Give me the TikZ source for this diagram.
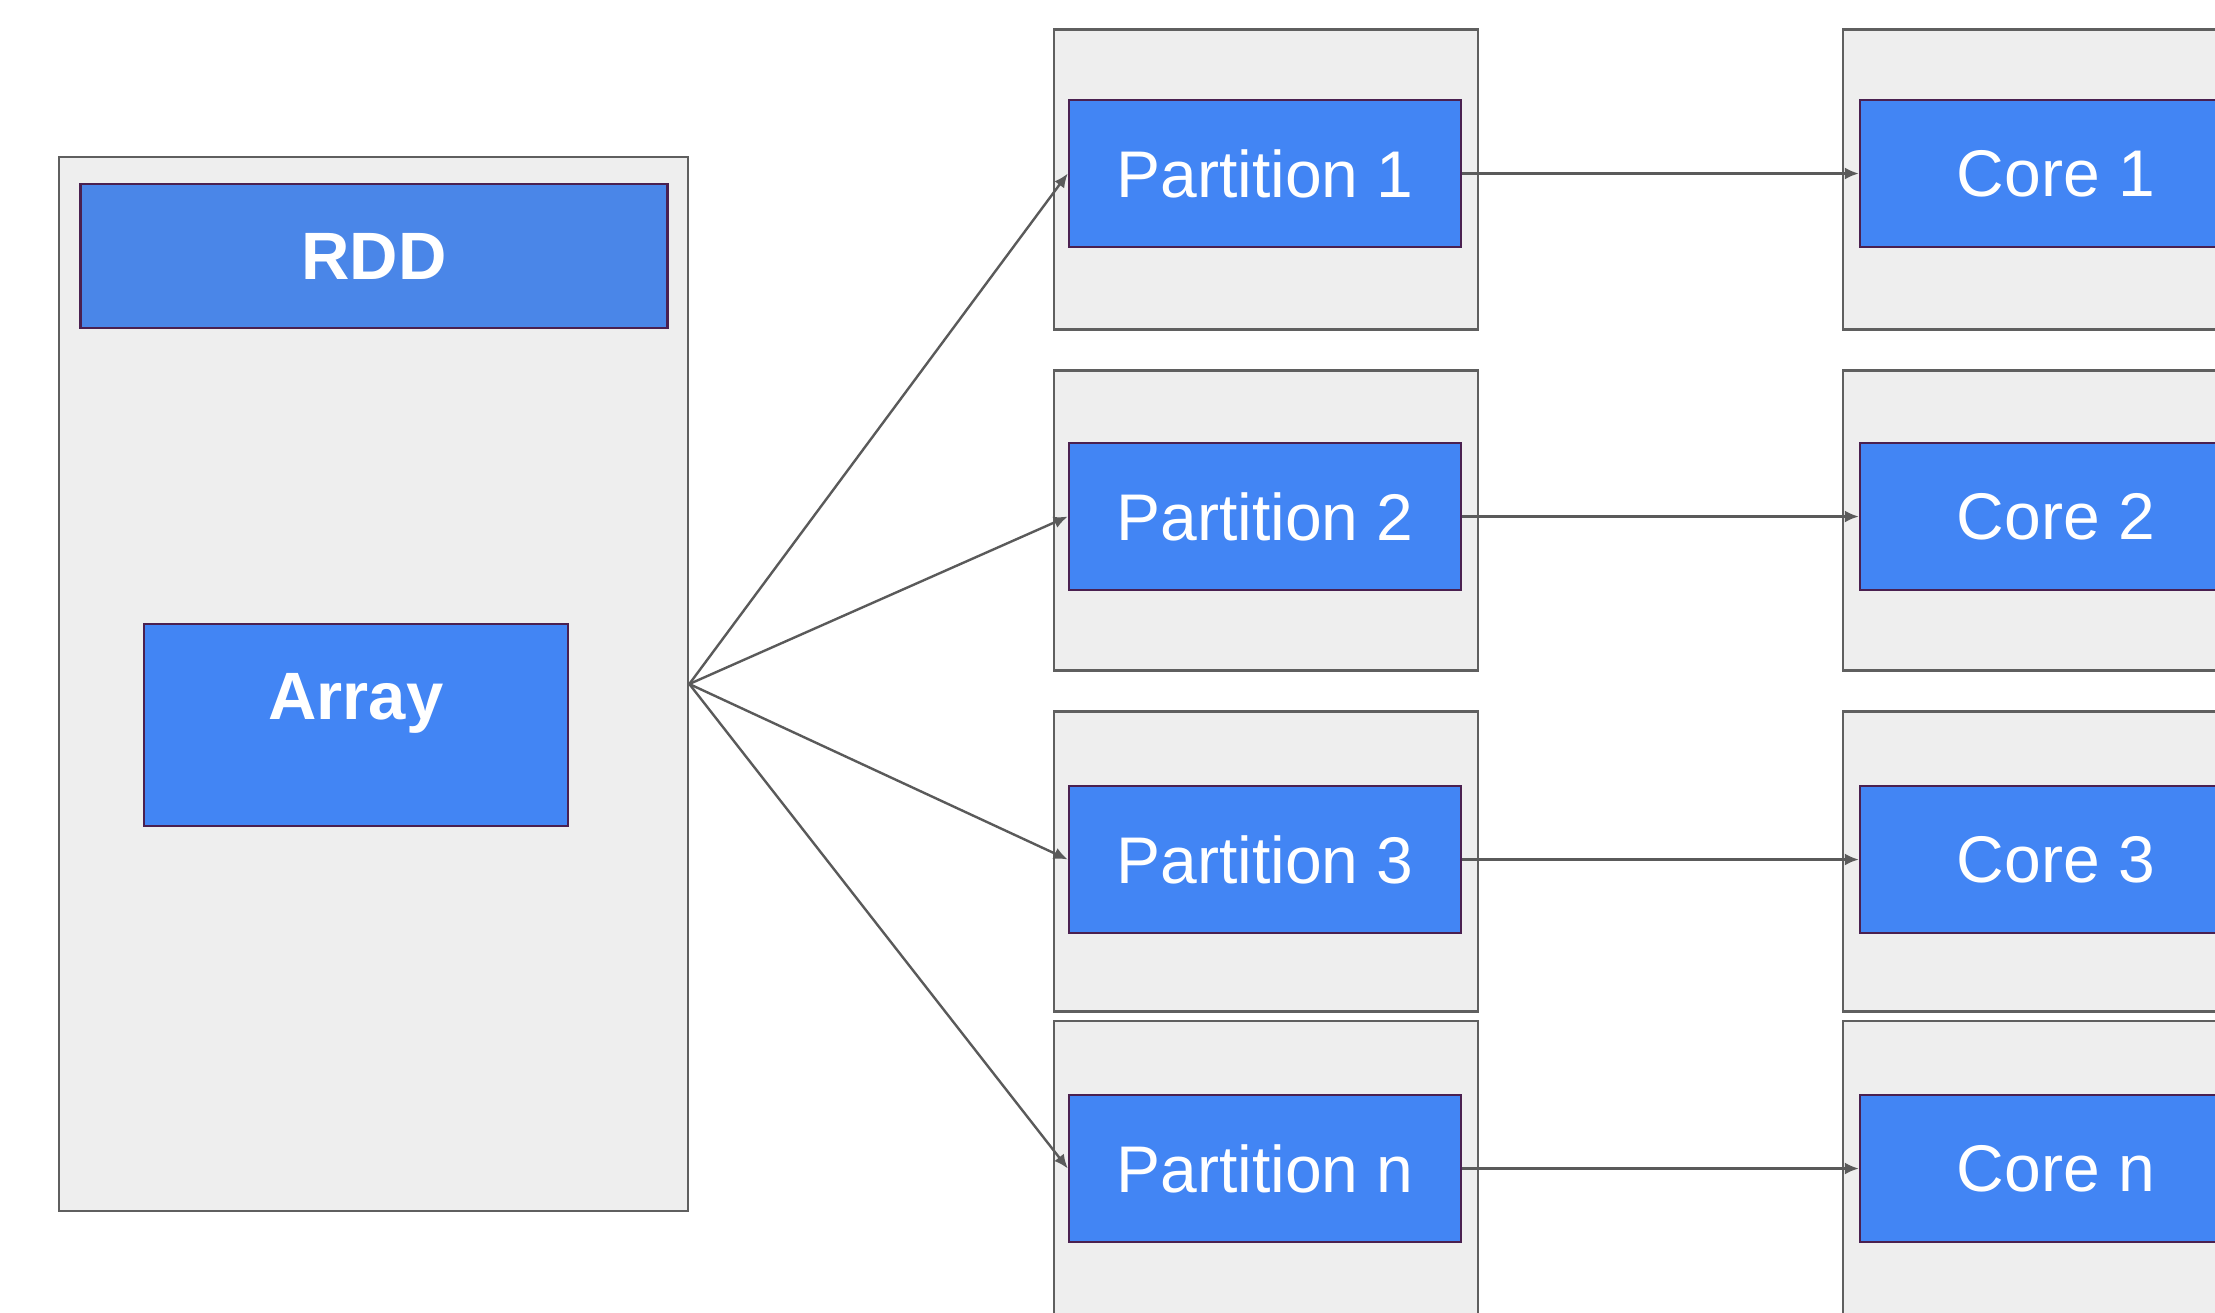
\documentclass[tikz,border=0pt]{standalone}
\usepackage{fontspec}
\setmainfont{Liberation Sans}
\usetikzlibrary{arrows.meta}
\definecolor{panelfill}{HTML}{EEEEEE}
\definecolor{panelline}{HTML}{5F5F5F}
\definecolor{blueA}{HTML}{4285F4}
\definecolor{blueB}{HTML}{4A86E8}
\definecolor{blueline}{HTML}{4A2050}
\definecolor{arrowc}{HTML}{5A5A5A}
\begin{document}
\begin{tikzpicture}[x=0.5pt,y=-0.5pt,
  panel/.style={draw=panelline, fill=panelfill, line width=1.3pt, rectangle, inner sep=0pt},
  bluebox/.style={draw=blueline, fill=blueA, line width=1.2pt, rectangle, inner sep=0pt, text=white, font=\fontsize{33}{40}\selectfont},
  boldtext/.style={font=\fontsize{33.5}{40}\selectfont\bfseries},
  link/.style={draw=arrowc, line width=1.2pt, -{Latex[length=7pt,width=6pt]}}]
\clip (0,0) rectangle (2215,1312);
\fill[white] (0,0) rectangle (2215,1312);
% RDD container
\node[panel, minimum width=314.5pt, minimum height=527pt] (rdd) at (373.5,684) {};
\node[bluebox, fill=blueB, boldtext, minimum width=293.5pt, minimum height=72pt] (rddhead) at (374,256) {RDD};
\node[bluebox, minimum width=212pt, minimum height=101pt,
  label={[anchor=base, text=white, boldtext, yshift=11pt]center:Array}] (array) at (356,725) {};
% partitions and cores
\foreach \n/\oy/\iy in {1/179.5/173.5, 2/520.5/516.5, 3/861.5/859.5, n/1171/1168.5}{
  \node[panel, minimum width=212pt, minimum height=150pt] (pp\n) at (1266,\oy) {};
  \node[bluebox, minimum width=196pt, minimum height=73.5pt] (p\n) at (1265,\iy) {Partition \n};
  \node[panel, minimum width=212pt, minimum height=150pt] (cc\n) at (2055,\oy) {};
  \node[bluebox, minimum width=196pt, minimum height=73.5pt] (c\n) at (2056,\iy) {Core \n};
  \draw[link] (rdd.east) -- (p\n.west);
  \draw[link] (p\n.east) -- (c\n.west);
}
\end{tikzpicture}
\end{document}
